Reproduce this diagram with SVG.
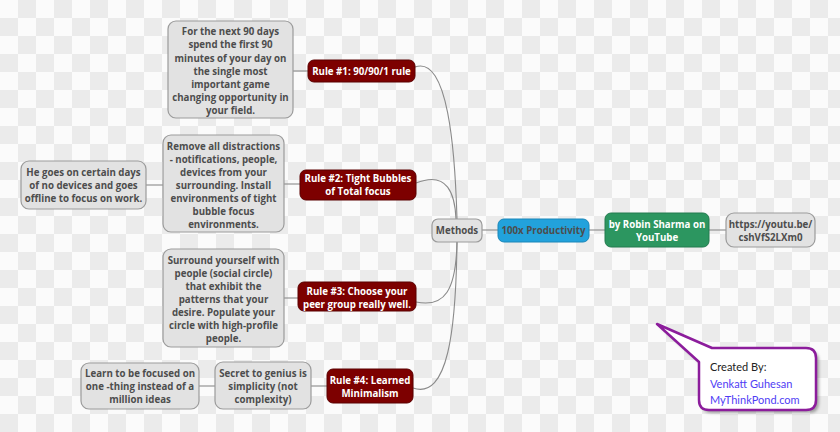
<svg xmlns="http://www.w3.org/2000/svg" width="840" height="432" viewBox="0 0 840 432">
<defs>
<pattern id="chk" x="0" y="0" width="36" height="36" patternUnits="userSpaceOnUse">
<rect width="36" height="36" fill="#fbfbfb"/>
<rect x="18" y="0" width="18" height="18" fill="#ebebeb"/>
<rect x="0" y="18" width="18" height="18" fill="#ebebeb"/>
</pattern>
<filter id="sh" x="-20%" y="-20%" width="150%" height="150%">
<feGaussianBlur stdDeviation="1.5"/>
</filter>
</defs>
<style>
.g{fill:#e2e2e2;stroke:#9b9b9b;stroke-width:1.2}
.r{fill:#7d0000;stroke:#5a0000;stroke-width:1}
.t{font-family:"Open Sans","Noto Sans","DejaVu Sans",sans-serif;font-weight:bold;font-size:9.7px;text-anchor:middle}
.dk{fill:#4d4d4d}
.wt{fill:#ffffff}
.c{fill:none;stroke:#8a8a8a;stroke-width:1.1}
.n{font-family:Lato,"Open Sans",sans-serif;font-size:11px}
</style>
<rect width="840" height="432" fill="url(#chk)"/>

<g id="connectors">
<path class="c" d="M293,71 H308"/>
<path class="c" d="M284,184 H300"/>
<path class="c" d="M146,185 H163"/>
<path class="c" d="M284,298 H298"/>
<path class="c" d="M199,386 H215"/>
<path class="c" d="M311,386 H327"/>
<path class="c" d="M482,230 H498"/>
<path class="c" d="M589,230 H605"/>
<path class="c" d="M709,230 H726"/>
<path class="c" d="M415,67 C448,55 455,150 457,219"/>
<path class="c" d="M416,183 C448,170 455,195 456,219"/>
<path class="c" d="M457,242 C456,290 445,308 416,302"/>
<path class="c" d="M457,242 C456,330 448,400 413,388"/>
</g>

<g id="box1">
<rect class="g" x="168" y="21" width="125" height="97" rx="8"/>
<text class="t dk"><tspan x="230.5" y="35">For the next 90 days</tspan><tspan x="230.5" y="48">spend the first 90</tspan><tspan x="230.5" y="61.5">minutes of your day on</tspan><tspan x="230.5" y="74.5">the single most</tspan><tspan x="230.5" y="87.5">important game</tspan><tspan x="230.5" y="100.5">changing opportunity in</tspan><tspan x="230.5" y="114">your field.</tspan></text>
</g>
<g id="rule1">
<rect class="r" x="308" y="60" width="107" height="22" rx="6"/>
<text class="t wt" x="361.5" y="74.5">Rule #1: 90/90/1 rule</text>
</g>

<g id="box2a">
<rect class="g" x="21" y="161" width="125" height="48" rx="8"/>
<text class="t dk"><tspan x="83.5" y="176">He goes on certain days</tspan><tspan x="83.5" y="189">of no devices and goes</tspan><tspan x="83.5" y="202">offline to focus on work.</tspan></text>
</g>
<g id="box2">
<rect class="g" x="163" y="135" width="121" height="97" rx="8"/>
<text class="t dk"><tspan x="223.5" y="149.5">Remove all distractions</tspan><tspan x="223.5" y="162.5">- notifications, people,</tspan><tspan x="223.5" y="175.5">devices from your</tspan><tspan x="223.5" y="188.5">surrounding. Install</tspan><tspan x="223.5" y="201.5">environments of tight</tspan><tspan x="223.5" y="214.5">bubble focus</tspan><tspan x="223.5" y="227.5">environments.</tspan></text>
</g>
<g id="rule2">
<rect class="r" x="300" y="170" width="116" height="30" rx="6"/>
<text class="t wt"><tspan x="358" y="181.5">Rule #2: Tight Bubbles</tspan><tspan x="358" y="194.5">of Total focus</tspan></text>
</g>

<g id="box3">
<rect class="g" x="163" y="249" width="121" height="98" rx="8"/>
<text class="t dk"><tspan x="223.5" y="263.5">Surround yourself with</tspan><tspan x="223.5" y="276.5">people (social circle)</tspan><tspan x="223.5" y="289.5">that exhibit the</tspan><tspan x="223.5" y="302.5">patterns that your</tspan><tspan x="223.5" y="315.5">desire. Populate your</tspan><tspan x="223.5" y="328.5">circle with high-profile</tspan><tspan x="223.5" y="341.5">people.</tspan></text>
</g>
<g id="rule3">
<rect class="r" x="298" y="282" width="118" height="29" rx="6"/>
<text class="t wt"><tspan x="357" y="294.5">Rule #3: Choose your</tspan><tspan x="357" y="307.5">peer group really well.</tspan></text>
</g>

<g id="box4a">
<rect class="g" x="81" y="363" width="118" height="46" rx="8"/>
<text class="t dk"><tspan x="140" y="376.5">Learn to be focused on</tspan><tspan x="140" y="389.5">one -thing instead of a</tspan><tspan x="140" y="402.5">million ideas</tspan></text>
</g>
<g id="box4">
<rect class="g" x="215" y="362" width="96" height="47" rx="8"/>
<text class="t dk"><tspan x="263" y="376.5">Secret to genius is</tspan><tspan x="263" y="389.5">simplicity (not</tspan><tspan x="263" y="402.5">complexity)</tspan></text>
</g>
<g id="rule4">
<rect class="r" x="327" y="369" width="86" height="34" rx="6"/>
<text class="t wt"><tspan x="370" y="383.5">Rule #4: Learned</tspan><tspan x="370" y="396.5">Minimalism</tspan></text>
</g>

<g id="methods">
<rect class="g" x="432" y="219" width="50" height="23" rx="6"/>
<text class="t dk" x="457" y="234">Methods</text>
</g>
<g id="central">
<rect x="498" y="219" width="91" height="23" rx="6" fill="#22a2dc" stroke="#1a86b8" stroke-width="1"/>
<text class="t dk" x="543.5" y="234">100x Productivity</text>
</g>
<g id="robin">
<rect x="605" y="213" width="104" height="34" rx="6" fill="#2c9660" stroke="#237a4e" stroke-width="1"/>
<text class="t wt"><tspan x="657" y="227.5">by Robin Sharma on</tspan><tspan x="657" y="241">YouTube</tspan></text>
</g>
<g id="link">
<rect class="g" x="726" y="213" width="89" height="34" rx="8"/>
<text class="t dk"><tspan x="770.5" y="227.5">https://youtu.be/</tspan><tspan x="770.5" y="241">cshVfS2LXm0</tspan></text>
</g>

<g id="callout">
<path d="M660,327 L715,351 H809 Q819,351 819,361 V403 Q819,413 809,413 H712 Q702,413 702,403 V365 Z" fill="#555" opacity="0.5" filter="url(#sh)"/>
<path d="M657,324 L712,348 H806 Q816,348 816,358 V400 Q816,410 806,410 H709 Q699,410 699,400 V362 Z" fill="#ffffff" stroke="#8c1d9c" stroke-width="2.5" stroke-linejoin="round"/>
<text class="n" x="710" y="371" fill="#222">Created By:</text>
<text class="n" x="710" y="387.5" fill="#4f3df5">Venkatt Guhesan</text>
<text class="n" x="710" y="404" fill="#4f3df5">MyThinkPond.com</text>
</g>
</svg>
